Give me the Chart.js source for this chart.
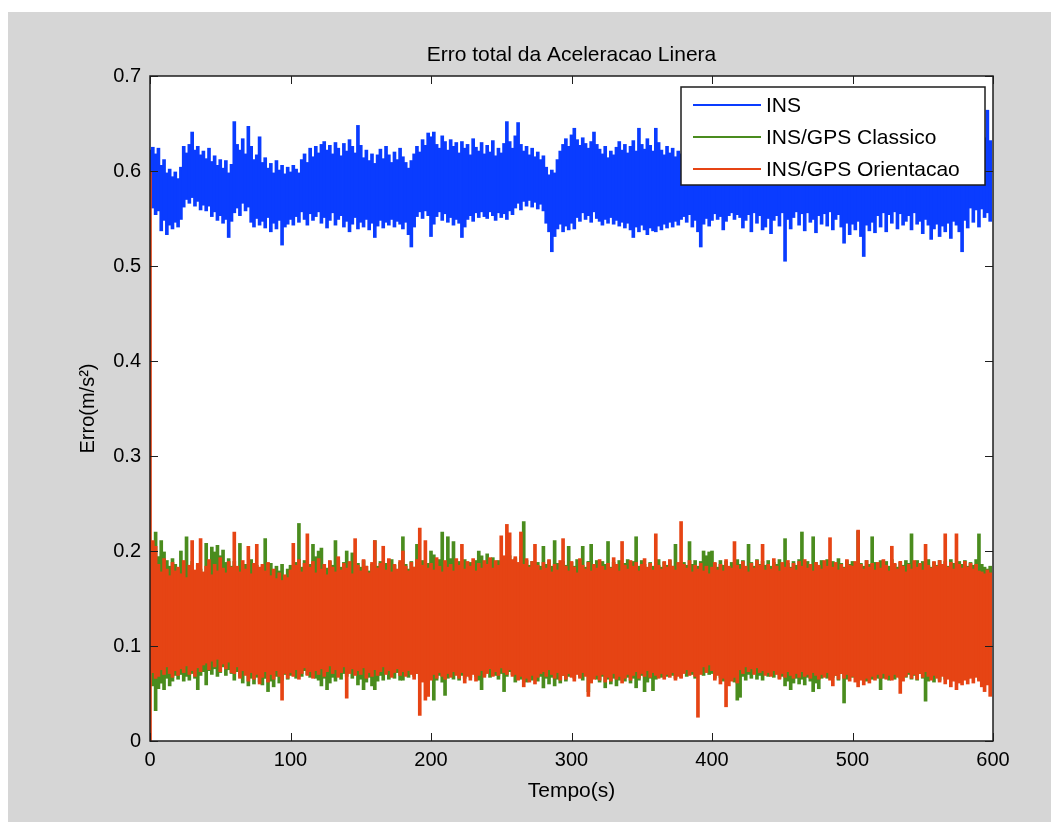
<!DOCTYPE html>
<html>
<head>
<meta charset="utf-8">
<title>Erro total da Aceleracao Linera</title>
<script src="https://cdn.jsdelivr.net/npm/chart.js@4.4.1/dist/chart.umd.min.js"></script>
<style>
  html, body { margin: 0; padding: 0; background: #fff; overflow: hidden; }
  canvas { display: block; }
</style>
</head>
<body>
<canvas id="erro-chart" width="1051" height="822"></canvas>
<script>
// Each signal is drawn as min/max columns, one column every SAMPLE_DT seconds
const SAMPLE_DT = 2;

const chartTitle = 'Erro total da Aceleracao Linera';
const xTitle = 'Tempo(s)';
const yTitle = 'Erro(m/s²)';

const xTicks = [0, 100, 200, 300, 400, 500, 600];
const yTicks = [0, 0.1, 0.2, 0.3, 0.4, 0.5, 0.6, 0.7];

const seriesLabels = ['INS', 'INS/GPS Classico', 'INS/GPS Orientacao'];
const seriesColors = ['#0a3cff', '#4a8c1e', '#e64414'];

// INS (m/s^2): column max / min
const insHigh = [
  0.622, 0.625, 0.618, 0.624, 0.606, 0.612, 0.598, 0.602, 0.594, 0.599, 0.592, 0.604, 0.626, 0.619, 0.628, 0.641, 0.622, 0.626, 0.617, 0.621, 0.613, 0.624, 0.610, 0.616, 0.606, 0.612, 0.603, 0.611, 0.598, 0.607,
  0.652, 0.628, 0.622, 0.634, 0.618, 0.647, 0.626, 0.612, 0.617, 0.636, 0.609, 0.614, 0.603, 0.608, 0.598, 0.611, 0.601, 0.606, 0.597, 0.604, 0.599, 0.606, 0.602, 0.598, 0.612, 0.618, 0.609, 0.624, 0.615, 0.626,
  0.619, 0.628, 0.631, 0.622, 0.627, 0.618, 0.630, 0.624, 0.616, 0.629, 0.621, 0.633, 0.626, 0.619, 0.648, 0.627, 0.614, 0.622, 0.611, 0.618, 0.608, 0.617, 0.623, 0.613, 0.626, 0.617, 0.609, 0.620, 0.612, 0.624,
  0.615, 0.609, 0.603, 0.611, 0.618, 0.626, 0.620, 0.633, 0.627, 0.640, 0.636, 0.641, 0.628, 0.624, 0.637, 0.631, 0.622, 0.633, 0.626, 0.630, 0.619, 0.631, 0.624, 0.628, 0.617, 0.634, 0.625, 0.621, 0.630, 0.618,
  0.627, 0.620, 0.632, 0.616, 0.624, 0.619, 0.629, 0.652, 0.631, 0.624, 0.637, 0.651, 0.628, 0.621, 0.626, 0.617, 0.624, 0.615, 0.620, 0.612, 0.616, 0.604, 0.596, 0.601, 0.598, 0.612, 0.621, 0.628, 0.634, 0.626,
  0.638, 0.645, 0.633, 0.627, 0.635, 0.629, 0.624, 0.631, 0.641, 0.628, 0.623, 0.618, 0.626, 0.614, 0.621, 0.617, 0.625, 0.631, 0.622, 0.628, 0.619, 0.626, 0.632, 0.621, 0.645, 0.628, 0.623, 0.634, 0.627, 0.621,
  0.645, 0.630, 0.622, 0.617, 0.626, 0.619, 0.624, 0.615, 0.621, 0.618, 0.624, 0.616, 0.627, 0.612, 0.620, 0.628, 0.617, 0.623, 0.611, 0.619, 0.614, 0.622, 0.609, 0.618, 0.625, 0.613, 0.620, 0.608, 0.616, 0.611,
  0.619, 0.607, 0.615, 0.610, 0.621, 0.612, 0.604, 0.617, 0.609, 0.613, 0.606, 0.618, 0.611, 0.603, 0.614, 0.609, 0.620, 0.612, 0.605, 0.616, 0.610, 0.622, 0.614, 0.618, 0.609, 0.624, 0.615, 0.619, 0.611, 0.621,
  0.613, 0.608, 0.617, 0.604, 0.611, 0.602, 0.615, 0.607, 0.612, 0.605, 0.609, 0.601, 0.611, 0.604, 0.598, 0.607, 0.612, 0.603, 0.616, 0.610, 0.618, 0.612, 0.621, 0.614, 0.609, 0.619, 0.613, 0.622, 0.615, 0.610,
  0.617, 0.611, 0.620, 0.613, 0.608, 0.615, 0.606, 0.612, 0.603, 0.609, 0.601, 0.608, 0.604, 0.611, 0.606, 0.614, 0.609, 0.616, 0.611, 0.618, 0.613, 0.619, 0.611, 0.622, 0.616, 0.628, 0.621, 0.635, 0.664, 0.632
];
const insLow = [
  0.585, 0.561, 0.554, 0.558, 0.537, 0.548, 0.533, 0.543, 0.539, 0.546, 0.541, 0.549, 0.562, 0.570, 0.566, 0.572, 0.563, 0.568, 0.559, 0.564, 0.558, 0.563, 0.552, 0.557, 0.548, 0.553, 0.545, 0.549, 0.530, 0.547,
  0.556, 0.561, 0.553, 0.566, 0.558, 0.562, 0.546, 0.541, 0.550, 0.543, 0.547, 0.540, 0.551, 0.536, 0.545, 0.539, 0.548, 0.522, 0.541, 0.544, 0.549, 0.543, 0.552, 0.546, 0.557, 0.549, 0.543, 0.555, 0.548, 0.552,
  0.557, 0.545, 0.551, 0.540, 0.548, 0.556, 0.543, 0.549, 0.553, 0.541, 0.547, 0.536, 0.544, 0.551, 0.539, 0.546, 0.541, 0.549, 0.538, 0.545, 0.530, 0.542, 0.548, 0.540, 0.546, 0.543, 0.549, 0.541, 0.547, 0.544,
  0.539, 0.546, 0.533, 0.520, 0.541, 0.552, 0.557, 0.550, 0.558, 0.553, 0.531, 0.544, 0.552, 0.557, 0.548, 0.555, 0.546, 0.551, 0.543, 0.549, 0.545, 0.530, 0.541, 0.549, 0.553, 0.547, 0.556, 0.551, 0.557, 0.552,
  0.550, 0.557, 0.553, 0.548, 0.556, 0.551, 0.555, 0.549, 0.558, 0.554, 0.561, 0.566, 0.559, 0.568, 0.563, 0.569, 0.562, 0.567, 0.560, 0.565, 0.558, 0.545, 0.536, 0.515, 0.531, 0.539, 0.544, 0.536, 0.542, 0.538,
  0.545, 0.539, 0.551, 0.547, 0.556, 0.549, 0.553, 0.546, 0.557, 0.550, 0.547, 0.543, 0.549, 0.545, 0.551, 0.544, 0.548, 0.542, 0.546, 0.540, 0.545, 0.538, 0.530, 0.541, 0.536, 0.543, 0.538, 0.533, 0.540, 0.537,
  0.536, 0.542, 0.538, 0.544, 0.540, 0.546, 0.541, 0.547, 0.543, 0.549, 0.552, 0.546, 0.554, 0.541, 0.548, 0.536, 0.520, 0.544, 0.550, 0.542, 0.548, 0.555, 0.549, 0.552, 0.538, 0.547, 0.553, 0.556, 0.549, 0.554,
  0.551, 0.540, 0.548, 0.554, 0.536, 0.556, 0.545, 0.553, 0.538, 0.541, 0.550, 0.534, 0.548, 0.553, 0.542, 0.556, 0.505, 0.549, 0.539, 0.551, 0.557, 0.543, 0.555, 0.537, 0.556, 0.546, 0.549, 0.535, 0.553, 0.544,
  0.555, 0.542, 0.557, 0.538, 0.549, 0.554, 0.541, 0.524, 0.545, 0.533, 0.544, 0.538, 0.547, 0.531, 0.510, 0.543, 0.537, 0.546, 0.535, 0.553, 0.541, 0.556, 0.536, 0.554, 0.545, 0.557, 0.539, 0.555, 0.543, 0.547,
  0.553, 0.538, 0.556, 0.544, 0.547, 0.534, 0.549, 0.543, 0.528, 0.539, 0.544, 0.531, 0.542, 0.536, 0.545, 0.529, 0.547, 0.543, 0.536, 0.515, 0.548, 0.540, 0.561, 0.546, 0.559, 0.541, 0.560, 0.551, 0.556, 0.547
];

// INS/GPS Classico (m/s^2): column max / min
const classicoHigh = [
  0.198, 0.187, 0.220, 0.194, 0.211, 0.199, 0.190, 0.184, 0.192, 0.186, 0.180, 0.200, 0.177, 0.215, 0.183, 0.189, 0.178, 0.185, 0.181, 0.176, 0.208, 0.186, 0.204, 0.199, 0.206, 0.195, 0.201, 0.188, 0.192, 0.184,
  0.189, 0.183, 0.208, 0.180, 0.186, 0.178, 0.191, 0.182, 0.185, 0.179, 0.183, 0.213, 0.180, 0.187, 0.176, 0.184, 0.179, 0.186, 0.174, 0.181, 0.185, 0.179, 0.188, 0.229, 0.183, 0.190, 0.181, 0.186, 0.207, 0.194,
  0.200, 0.203, 0.186, 0.182, 0.189, 0.185, 0.211, 0.190, 0.183, 0.188, 0.200, 0.185, 0.198, 0.181, 0.187, 0.183, 0.190, 0.184, 0.179, 0.186, 0.211, 0.184, 0.189, 0.182, 0.187, 0.180, 0.191, 0.185, 0.178, 0.188,
  0.215, 0.186, 0.181, 0.189, 0.183, 0.207, 0.185, 0.190, 0.182, 0.187, 0.200, 0.196, 0.186, 0.191, 0.220, 0.188, 0.215, 0.192, 0.210, 0.185, 0.189, 0.183, 0.191, 0.185, 0.188, 0.182, 0.190, 0.200, 0.195, 0.186,
  0.197, 0.188, 0.193, 0.186, 0.190, 0.184, 0.192, 0.187, 0.195, 0.189, 0.192, 0.187, 0.194, 0.231, 0.190, 0.185, 0.189, 0.183, 0.188, 0.184, 0.205, 0.186, 0.190, 0.184, 0.211, 0.187, 0.183, 0.189, 0.185, 0.205,
  0.188, 0.184, 0.191, 0.186, 0.205, 0.183, 0.189, 0.207, 0.185, 0.190, 0.184, 0.189, 0.186, 0.210, 0.183, 0.188, 0.185, 0.190, 0.182, 0.187, 0.191, 0.185, 0.189, 0.215, 0.184, 0.190, 0.186, 0.182, 0.188, 0.184,
  0.186, 0.191, 0.183, 0.188, 0.185, 0.190, 0.184, 0.207, 0.187, 0.182, 0.188, 0.185, 0.210, 0.186, 0.190, 0.184, 0.189, 0.200, 0.195, 0.199, 0.200, 0.187, 0.183, 0.190, 0.185, 0.189, 0.182, 0.188, 0.184, 0.191,
  0.186, 0.190, 0.183, 0.207, 0.188, 0.184, 0.191, 0.186, 0.189, 0.185, 0.190, 0.184, 0.188, 0.186, 0.191, 0.185, 0.213, 0.187, 0.183, 0.189, 0.185, 0.191, 0.220, 0.186, 0.189, 0.184, 0.215, 0.188, 0.183, 0.190,
  0.186, 0.191, 0.184, 0.189, 0.185, 0.192, 0.187, 0.183, 0.190, 0.186, 0.189, 0.185, 0.221, 0.187, 0.184, 0.190, 0.186, 0.215, 0.188, 0.183, 0.190, 0.185, 0.189, 0.184, 0.191, 0.186, 0.183, 0.188, 0.185, 0.190,
  0.187, 0.218, 0.185, 0.190, 0.184, 0.189, 0.186, 0.191, 0.183, 0.188, 0.185, 0.190, 0.186, 0.189, 0.184, 0.191, 0.187, 0.183, 0.189, 0.186, 0.190, 0.184, 0.188, 0.185, 0.191, 0.218, 0.186, 0.183, 0.181, 0.184
];
const classicoLow = [
  0.062, 0.058, 0.032, 0.055, 0.061, 0.054, 0.066, 0.058, 0.063, 0.069, 0.065, 0.070, 0.063, 0.068, 0.064, 0.071, 0.066, 0.054, 0.069, 0.073, 0.059, 0.074, 0.070, 0.076, 0.068, 0.072, 0.078, 0.069, 0.075, 0.071,
  0.064, 0.073, 0.068, 0.061, 0.070, 0.058, 0.066, 0.060, 0.067, 0.062, 0.059, 0.066, 0.052, 0.063, 0.057, 0.068, 0.061, 0.064, 0.070, 0.065, 0.069, 0.073, 0.066, 0.071, 0.068, 0.074, 0.070, 0.067, 0.072, 0.066,
  0.064, 0.058, 0.066, 0.054, 0.061, 0.067, 0.063, 0.070, 0.065, 0.071, 0.068, 0.072, 0.066, 0.070, 0.059, 0.065, 0.054, 0.062, 0.067, 0.058, 0.054, 0.063, 0.069, 0.064, 0.071, 0.065, 0.070, 0.066, 0.072, 0.064,
  0.064, 0.070, 0.067, 0.073, 0.068, 0.071, 0.066, 0.072, 0.065, 0.069, 0.067, 0.043, 0.064, 0.069, 0.062, 0.048, 0.066, 0.071, 0.065, 0.070, 0.064, 0.069, 0.066, 0.071, 0.067, 0.073, 0.068, 0.064, 0.054, 0.069,
  0.072, 0.067, 0.074, 0.069, 0.065, 0.071, 0.052, 0.068, 0.073, 0.070, 0.062, 0.068, 0.065, 0.070, 0.062, 0.067, 0.064, 0.069, 0.063, 0.068, 0.056, 0.066, 0.060, 0.067, 0.058, 0.065, 0.061, 0.069, 0.063, 0.068,
  0.070, 0.066, 0.072, 0.068, 0.064, 0.070, 0.052, 0.067, 0.071, 0.065, 0.062, 0.068, 0.056, 0.065, 0.060, 0.066, 0.058, 0.064, 0.069, 0.063, 0.067, 0.061, 0.066, 0.056, 0.064, 0.069, 0.052, 0.062, 0.066, 0.053,
  0.065, 0.070, 0.067, 0.072, 0.068, 0.073, 0.069, 0.066, 0.071, 0.067, 0.072, 0.068, 0.074, 0.070, 0.066, 0.071, 0.075, 0.069, 0.073, 0.070, 0.071, 0.066, 0.072, 0.067, 0.063, 0.069, 0.065, 0.070, 0.062, 0.043,
  0.046, 0.068, 0.064, 0.070, 0.066, 0.071, 0.065, 0.069, 0.064, 0.072, 0.068, 0.073, 0.067, 0.071, 0.066, 0.068, 0.058, 0.063, 0.054, 0.061, 0.066, 0.060, 0.065, 0.059, 0.067, 0.063, 0.052, 0.061, 0.055, 0.066,
  0.070, 0.066, 0.072, 0.067, 0.069, 0.064, 0.071, 0.040, 0.065, 0.070, 0.067, 0.072, 0.066, 0.071, 0.068, 0.063, 0.069, 0.065, 0.070, 0.066, 0.054, 0.066, 0.071, 0.064, 0.069, 0.065, 0.070, 0.066, 0.072, 0.067,
  0.070, 0.065, 0.069, 0.064, 0.071, 0.066, 0.042, 0.063, 0.068, 0.062, 0.068, 0.064, 0.070, 0.065, 0.071, 0.066, 0.069, 0.063, 0.068, 0.065, 0.070, 0.066, 0.072, 0.067, 0.069, 0.064, 0.071, 0.066, 0.068, 0.065
];

// INS/GPS Orientacao (m/s^2): column max / min
const orientHigh = [
  0.600, 0.211, 0.205, 0.186, 0.178, 0.192, 0.181, 0.174, 0.188, 0.179, 0.183, 0.176, 0.190, 0.172, 0.185, 0.211, 0.180, 0.187, 0.213, 0.178, 0.184, 0.191, 0.175, 0.186, 0.179, 0.193, 0.182, 0.177, 0.189, 0.183,
  0.220, 0.184, 0.178, 0.190, 0.181, 0.205, 0.176, 0.187, 0.207, 0.183, 0.186, 0.179, 0.188, 0.174, 0.181, 0.171, 0.177, 0.169, 0.175, 0.172, 0.180, 0.208, 0.185, 0.191, 0.178, 0.187, 0.218, 0.183, 0.189, 0.177,
  0.192, 0.181, 0.186, 0.175, 0.190, 0.183, 0.178, 0.194, 0.180, 0.187, 0.182, 0.189, 0.176, 0.213, 0.185, 0.179, 0.191, 0.184, 0.177, 0.188, 0.211, 0.182, 0.187, 0.205, 0.180, 0.192, 0.178, 0.186, 0.181, 0.190,
  0.200, 0.184, 0.179, 0.188, 0.183, 0.191, 0.224, 0.185, 0.211, 0.182, 0.187, 0.180, 0.193, 0.184, 0.178, 0.190, 0.183, 0.186, 0.179, 0.192, 0.185, 0.207, 0.181, 0.189, 0.184, 0.192, 0.179, 0.187, 0.182, 0.190,
  0.186, 0.193, 0.182, 0.190, 0.185, 0.216, 0.195, 0.228, 0.219, 0.191, 0.194, 0.188, 0.220, 0.186, 0.192, 0.183, 0.189, 0.207, 0.185, 0.180, 0.188, 0.182, 0.191, 0.178, 0.186, 0.180, 0.190, 0.213, 0.184, 0.179,
  0.189, 0.183, 0.177, 0.192, 0.185, 0.181, 0.188, 0.179, 0.186, 0.182, 0.191, 0.184, 0.180, 0.187, 0.182, 0.193, 0.186, 0.179, 0.210, 0.185, 0.181, 0.190, 0.184, 0.188, 0.179, 0.186, 0.192, 0.183, 0.187, 0.180,
  0.218, 0.185, 0.181, 0.189, 0.183, 0.191, 0.184, 0.180, 0.188, 0.231, 0.186, 0.182, 0.190, 0.178, 0.185, 0.181, 0.187, 0.179, 0.184, 0.176, 0.183, 0.188, 0.180, 0.186, 0.179, 0.191, 0.184, 0.182, 0.210, 0.185,
  0.181, 0.189, 0.184, 0.178, 0.187, 0.182, 0.190, 0.185, 0.207, 0.180, 0.186, 0.181, 0.192, 0.184, 0.179, 0.188, 0.183, 0.190, 0.182, 0.187, 0.180, 0.189, 0.184, 0.191, 0.182, 0.186, 0.179, 0.188, 0.185, 0.181,
  0.190, 0.184, 0.214, 0.183, 0.188, 0.180, 0.186, 0.182, 0.191, 0.185, 0.184, 0.189, 0.222, 0.186, 0.181, 0.190, 0.183, 0.187, 0.180, 0.188, 0.182, 0.191, 0.185, 0.179, 0.205, 0.187, 0.181, 0.189, 0.184, 0.178,
  0.186, 0.181, 0.190, 0.183, 0.187, 0.180, 0.207, 0.185, 0.182, 0.189, 0.184, 0.190, 0.186, 0.218, 0.183, 0.188, 0.181, 0.218, 0.186, 0.182, 0.189, 0.183, 0.187, 0.181, 0.186, 0.179, 0.178, 0.176, 0.180, 0.177
];
const orientLow = [
  0.000, 0.072, 0.066, 0.068, 0.075, 0.070, 0.078, 0.071, 0.067, 0.074, 0.069, 0.076, 0.072, 0.079, 0.070, 0.074, 0.068, 0.077, 0.073, 0.080, 0.082, 0.075, 0.084, 0.078, 0.086, 0.073, 0.081, 0.076, 0.083, 0.072,
  0.071, 0.078, 0.066, 0.074, 0.069, 0.063, 0.072, 0.065, 0.070, 0.060, 0.067, 0.073, 0.062, 0.070, 0.065, 0.074, 0.068, 0.043, 0.071, 0.066, 0.072, 0.068, 0.075, 0.065, 0.071, 0.077, 0.069, 0.073, 0.066, 0.074,
  0.070, 0.076, 0.068, 0.073, 0.079, 0.071, 0.075, 0.067, 0.072, 0.078, 0.045, 0.071, 0.076, 0.069, 0.074, 0.070, 0.077, 0.066, 0.072, 0.068, 0.075, 0.069, 0.073, 0.078, 0.070, 0.074, 0.067, 0.072, 0.076, 0.069,
  0.073, 0.068, 0.074, 0.070, 0.065, 0.071, 0.027, 0.062, 0.043, 0.047, 0.064, 0.070, 0.066, 0.072, 0.068, 0.065, 0.071, 0.067, 0.073, 0.069, 0.066, 0.072, 0.061, 0.068, 0.064, 0.070, 0.063, 0.069, 0.074, 0.067,
  0.071, 0.076, 0.068, 0.073, 0.069, 0.077, 0.072, 0.070, 0.075, 0.068, 0.070, 0.064, 0.068, 0.057, 0.066, 0.062, 0.069, 0.060, 0.067, 0.071, 0.073, 0.068, 0.075, 0.070, 0.066, 0.072, 0.064, 0.069, 0.065, 0.071,
  0.067, 0.063, 0.070, 0.066, 0.072, 0.068, 0.047, 0.061, 0.065, 0.069, 0.064, 0.070, 0.062, 0.067, 0.063, 0.071, 0.065, 0.068, 0.061, 0.066, 0.070, 0.064, 0.069, 0.073, 0.066, 0.071, 0.068, 0.074, 0.067, 0.072,
  0.069, 0.066, 0.071, 0.065, 0.070, 0.067, 0.072, 0.064, 0.068, 0.066, 0.071, 0.075, 0.069, 0.073, 0.068, 0.025, 0.070, 0.078, 0.072, 0.080, 0.074, 0.064, 0.069, 0.060, 0.066, 0.036, 0.058, 0.063, 0.067, 0.061,
  0.075, 0.071, 0.078, 0.073, 0.076, 0.070, 0.077, 0.072, 0.074, 0.069, 0.072, 0.068, 0.074, 0.070, 0.065, 0.071, 0.067, 0.073, 0.069, 0.066, 0.071, 0.067, 0.073, 0.068, 0.070, 0.066, 0.072, 0.069, 0.065, 0.070,
  0.067, 0.072, 0.064, 0.058, 0.069, 0.065, 0.071, 0.066, 0.070, 0.063, 0.068, 0.062, 0.057, 0.064, 0.059, 0.066, 0.061, 0.068, 0.064, 0.070, 0.066, 0.071, 0.065, 0.069, 0.064, 0.070, 0.067, 0.050, 0.063, 0.068,
  0.072, 0.066, 0.070, 0.065, 0.071, 0.067, 0.073, 0.068, 0.064, 0.069, 0.066, 0.062, 0.068, 0.060, 0.065, 0.057, 0.063, 0.054, 0.061, 0.059, 0.064, 0.060, 0.066, 0.061, 0.067, 0.063, 0.057, 0.052, 0.059, 0.047
];

const FONT = "'Liberation Sans', Arial, Helvetica, sans-serif";

// floating bar per column: [min, max] at t = i * SAMPLE_DT
function toColumns(low, high) {
    return low.map((lo, i) => ({ x: i * SAMPLE_DT, y: [lo, high[i]] }));
}

// figure background, axes box with inward ticks, title and boxed legend
const figureFrame = {
    id: 'figureFrame',
    beforeDraw(chart) {
        const { ctx, width, height, chartArea: a } = chart;
        ctx.save();
        ctx.fillStyle = '#ffffff';
        ctx.fillRect(0, 0, width, height);
        ctx.fillStyle = '#d6d6d6';
        ctx.fillRect(8, 12, width - 8, height - 12);
        ctx.fillStyle = '#ffffff';
        ctx.fillRect(a.left, a.top, a.right - a.left, a.bottom - a.top);
        ctx.restore();
    },
    afterDatasetsDraw(chart) {
        const { ctx, chartArea: a } = chart;
        const xs = chart.scales.x, ys = chart.scales.y;
        const tick = 8;
        ctx.save();
        ctx.strokeStyle = '#1e1e1e';
        ctx.lineWidth = 1;
        ctx.beginPath();
        xTicks.forEach(v => {
            const px = Math.round(xs.getPixelForValue(v)) + 0.5;
            ctx.moveTo(px, a.bottom); ctx.lineTo(px, a.bottom - tick);
            ctx.moveTo(px, a.top); ctx.lineTo(px, a.top + tick);
        });
        yTicks.forEach(v => {
            const py = Math.round(ys.getPixelForValue(v)) + 0.5;
            ctx.moveTo(a.left, py); ctx.lineTo(a.left + tick, py);
            ctx.moveTo(a.right, py); ctx.lineTo(a.right - tick, py);
        });
        ctx.stroke();
        ctx.lineWidth = 1.5;
        ctx.strokeRect(a.left, a.top, a.right - a.left, a.bottom - a.top);
        ctx.restore();
    },
    afterDraw(chart) {
        const { ctx, chartArea: a } = chart;
        ctx.save();
        ctx.fillStyle = '#000';
        ctx.font = `21px ${FONT}`;
        ctx.textAlign = 'center';
        ctx.textBaseline = 'middle';
        ctx.fillText(chartTitle, (a.left + a.right) / 2, 55);

        // legend box in the upper right corner of the axes
        const box = { left: a.right - 312, top: a.top + 11, width: 304, height: 98 };
        ctx.fillStyle = '#ffffff';
        ctx.fillRect(box.left, box.top, box.width, box.height);
        ctx.strokeStyle = '#1e1e1e';
        ctx.lineWidth = 1.5;
        ctx.strokeRect(box.left, box.top, box.width, box.height);

        ctx.textAlign = 'left';
        ctx.font = `21px ${FONT}`;
        seriesLabels.forEach((label, k) => {
            const y = box.top + 18 + k * 32;
            ctx.strokeStyle = seriesColors[k];
            ctx.lineWidth = 2;
            ctx.beginPath();
            ctx.moveTo(box.left + 12, y);
            ctx.lineTo(box.left + 80, y);
            ctx.stroke();
            ctx.fillStyle = '#000';
            ctx.fillText(label, box.left + 85, y + 1);
        });
        ctx.restore();
    }
};

const tickFont = { family: FONT, size: 20 };

new Chart(document.getElementById('erro-chart'), {
    type: 'bar',
    data: {
        datasets: [
            { label: seriesLabels[0], data: toColumns(insLow, insHigh), backgroundColor: seriesColors[0], order: 2 },
            { label: seriesLabels[1], data: toColumns(classicoLow, classicoHigh), backgroundColor: seriesColors[1], order: 1 },
            { label: seriesLabels[2], data: toColumns(orientLow, orientHigh), backgroundColor: seriesColors[2], order: 0 }
        ]
    },
    options: {
        responsive: false,
        animation: false,
        devicePixelRatio: 1,
        events: [],
        layout: { padding: { left: 0, top: 76, right: 58, bottom: 0 } },
        datasets: {
            bar: { grouped: false, barThickness: 3, borderWidth: 0 }
        },
        plugins: {
            legend: { display: false },
            tooltip: { enabled: false },
            title: { display: false }
        },
        scales: {
            x: {
                type: 'linear',
                min: 0,
                max: 600,
                offset: false,
                afterFit: s => { s.height = 81; },
                afterBuildTicks: s => { s.ticks = xTicks.map(v => ({ value: v })); },
                grid: { display: false, drawTicks: false, offset: false },
                border: { display: false },
                ticks: { color: '#000', font: tickFont, padding: 7, maxRotation: 0, autoSkip: false },
                title: {
                    display: true,
                    text: xTitle,
                    color: '#000',
                    font: { family: FONT, size: 21 },
                    padding: { top: 0, bottom: 18 }
                }
            },
            y: {
                type: 'linear',
                min: 0,
                max: 0.7,
                afterFit: s => { s.width = 150; },
                afterBuildTicks: s => { s.ticks = yTicks.map(v => ({ value: v })); },
                grid: { display: false, drawTicks: false },
                border: { display: false },
                ticks: { color: '#000', font: tickFont, padding: 9 },
                title: {
                    display: true,
                    text: yTitle,
                    color: '#000',
                    font: { family: FONT, size: 20 },
                    padding: { top: 76, bottom: 0 }
                }
            }
        }
    },
    plugins: [figureFrame]
});
</script>
</body>
</html>
